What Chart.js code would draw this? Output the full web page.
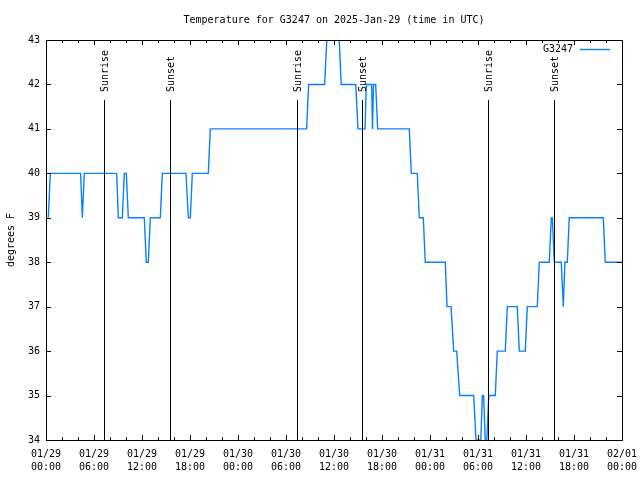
<!DOCTYPE html>
<html>
<head>
<meta charset="utf-8">
<script src="https://cdn.jsdelivr.net/npm/chart.js@4"></script>
<style>
  body { margin: 0; background: #fff; }
  #wrap { width: 640px; height: 480px; }
</style>
</head>
<body>
<div id="wrap"><canvas id="cv" width="640" height="480"></canvas></div>
<script>
/* global Chart */
// hours since 01/29 00:00 UTC
const hours = [
  0.29, 0.54, 4.33, 4.54, 4.79, 8.83, 9.04, 9.54, 9.79, 10.04, 10.29,
  12.29, 12.54, 12.79, 13.04, 14.29, 14.54, 17.5, 17.79, 18.04, 18.29,
  20.29, 20.54, 32.58, 32.83, 34.83, 35.1, 36.65, 36.9, 38.71, 39.0,
  39.88, 40.04, 40.71, 40.81, 40.94, 41.21, 41.46, 45.41, 45.66, 46.41,
  46.66, 47.16, 47.41, 49.91, 50.13, 50.63, 50.96, 51.34, 51.71, 53.46,
  53.75, 54.35, 54.55, 54.7, 54.9, 55.1, 55.35, 56.16, 56.41, 57.41,
  57.66, 58.91, 59.16, 59.91, 60.16, 61.41, 61.66, 62.91, 63.16, 63.29,
  63.54, 64.41, 64.66, 64.87, 65.16, 65.41, 69.66, 69.91, 72.0
];
const tempsF = [
  39, 40, 40, 39, 40, 40, 39, 39, 40, 40, 39,
  39, 38, 38, 39, 39, 40, 40, 39, 39, 40,
  40, 41, 41, 42, 42, 43, 43, 42, 42, 41,
  41, 42, 42, 41, 42, 42, 41, 41, 40, 40,
  39, 39, 38, 38, 37, 37, 36, 36, 35, 35,
  34, 34, 35, 35, 34, 34, 35, 35, 36, 36,
  37, 37, 36, 36, 37, 37, 38, 38, 39, 39,
  38, 38, 37, 38, 38, 39, 39, 38, 38
];

const tickDates = ["01/29", "01/29", "01/29", "01/29", "01/30", "01/30", "01/30",
                   "01/30", "01/31", "01/31", "01/31", "01/31", "02/01"];
const tickTimes = ["00:00", "06:00", "12:00", "18:00", "00:00", "06:00", "12:00",
                   "18:00", "00:00", "06:00", "12:00", "18:00", "00:00"];

const sunEvents = ["Sunrise", "Sunset", "Sunrise", "Sunset", "Sunrise", "Sunset"];
const sunHours = [7.3, 15.55, 31.33, 39.55, 55.2, 63.55];

const FONT = "'DejaVu Sans Mono', monospace";
const BLUE = "#0a80ff";

// gnuplot-ish frame: border, inward ticks, sun markers, legend, title
const gnuplotFrame = {
  id: "gnuplotFrame",
  afterDatasetsDraw(chart) {
    const { ctx, chartArea: a, scales: { x, y } } = chart;
    ctx.save();
    ctx.lineWidth = 1;
    ctx.strokeStyle = "#000";
    ctx.fillStyle = "#000";
    ctx.font = "10px " + FONT;

    // sunrise / sunset lines
    sunHours.forEach((h, i) => {
      const px = Math.round(x.getPixelForValue(h)) + 0.5;
      ctx.beginPath();
      ctx.moveTo(px, a.top + 60);
      ctx.lineTo(px, a.bottom);
      ctx.stroke();
      ctx.save();
      ctx.translate(px + 1, a.top + 52);
      ctx.rotate(-Math.PI / 2);
      ctx.textAlign = "left";
      ctx.textBaseline = "middle";
      ctx.fillText(sunEvents[i], 0, 0);
      ctx.restore();
    });

    // border
    ctx.strokeRect(a.left + 0.5, a.top + 0.5, a.right - a.left, a.bottom - a.top);

    // x ticks (every 2h, major every 6h), mirrored on top
    x.ticks.forEach(t => {
      const px = Math.round(x.getPixelForValue(t.value)) + 0.5;
      const len = t.value % 6 === 0 ? 5 : 3;
      ctx.beginPath();
      ctx.moveTo(px, a.bottom);
      ctx.lineTo(px, a.bottom - len);
      ctx.moveTo(px, a.top);
      ctx.lineTo(px, a.top + len);
      ctx.stroke();
    });
    // y ticks, mirrored on right
    y.ticks.forEach(t => {
      const py = Math.round(y.getPixelForValue(t.value)) + 0.5;
      ctx.beginPath();
      ctx.moveTo(a.left, py);
      ctx.lineTo(a.left + 5, py);
      ctx.moveTo(a.right, py);
      ctx.lineTo(a.right - 5, py);
      ctx.stroke();
    });

    // legend
    ctx.textAlign = "right";
    ctx.textBaseline = "middle";
    ctx.fillText(chart.data.datasets[0].label, 573, a.top + 9);
    ctx.strokeStyle = BLUE;
    ctx.lineWidth = 1.4;
    ctx.beginPath();
    ctx.moveTo(580, a.top + 9.5);
    ctx.lineTo(610, a.top + 9.5);
    ctx.stroke();

    // title
    ctx.textAlign = "center";
    ctx.fillText("Temperature for G3247 on 2025-Jan-29 (time in UTC)", (a.left + a.right) / 2, 20);
    ctx.restore();
  }
};

new Chart(document.getElementById("cv"), {
  type: "line",
  data: {
    datasets: [{
      label: "G3247",
      data: hours.map((h, i) => ({ x: h, y: tempsF[i] })),
      borderColor: BLUE,
      borderWidth: 1.4,
      pointRadius: 0,
      tension: 0,
      fill: false
    }]
  },
  options: {
    responsive: false,
    animation: false,
    devicePixelRatio: 1,
    layout: { padding: { top: 40, right: 18, left: 0, bottom: 0 } },
    plugins: { legend: { display: false }, title: { display: false }, tooltip: { enabled: false } },
    scales: {
      x: {
        type: "linear",
        min: 0,
        max: 72,
        grid: { display: false, drawTicks: false },
        border: { display: false },
        ticks: {
          stepSize: 2,
          autoSkip: false,
          maxRotation: 0,
          minRotation: 0,
          padding: 8,
          color: "#000",
          font: { family: FONT, size: 10, lineHeight: 1.3 },
          callback: v => (v % 6 === 0 ? [tickDates[v / 6], tickTimes[v / 6]] : "")
        },
        afterFit: s => { s.height = 40; s.paddingLeft = 0; s.paddingRight = 0; }
      },
      y: {
        min: 34,
        max: 43,
        grid: { display: false, drawTicks: false },
        border: { display: false },
        ticks: {
          stepSize: 1,
          padding: 6,
          color: "#000",
          font: { family: FONT, size: 10 }
        },
        title: {
          display: true,
          text: "degrees F",
          color: "#000",
          font: { family: FONT, size: 10, lineHeight: 1.2 },
          padding: { top: 5, bottom: 0 }
        },
        afterFit: s => { s.width = 46; s.paddingTop = 0; s.paddingBottom = 0; }
      }
    }
  },
  plugins: [gnuplotFrame]
});
</script>
</body>
</html>
